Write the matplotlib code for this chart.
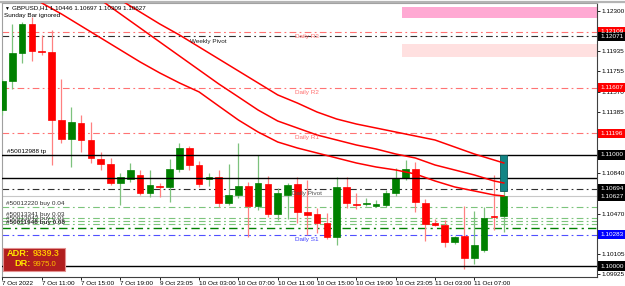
import matplotlib
matplotlib.use("Agg")
import matplotlib.pyplot as plt
from matplotlib.patches import Rectangle
from matplotlib.lines import Line2D
from matplotlib.transforms import blended_transform_factory

plt.rcParams['font.family'] = ['Liberation Sans', 'DejaVu Sans']

# H1 bars, bar 0 = 7 Oct 07:00
opens = [1.11405, 1.11667, 1.11919, 1.12180, 1.11937, 1.11928, 1.11315, 1.11144, 1.11288, 1.11135,
         1.10964, 1.10919, 1.10748, 1.10784, 1.10820, 1.10658, 1.10721, 1.10712, 1.10874, 1.11063,
         1.10910, 1.10784, 1.10802, 1.10568, 1.10640, 1.10721, 1.10541, 1.10739, 1.10468, 1.10640,
         1.10739, 1.10486, 1.10468, 1.10387, 1.10261, 1.10712, 1.10559, 1.10559, 1.10541, 1.10550,
         1.10658, 1.10793, 1.10874, 1.10568, 1.10387, 1.10369, 1.10216, 1.10270, 1.10072, 1.10144,
         1.10450, 1.10446]
highs = [1.11680, 1.12180, 1.12198, 1.12243, 1.12081, 1.12126, 1.11685, 1.11432, 1.11360, 1.11297,
         1.11027, 1.10973, 1.10838, 1.10928, 1.10865, 1.10865, 1.10748, 1.10964, 1.11108, 1.11081,
         1.10946, 1.10838, 1.10865, 1.10919, 1.11108, 1.10757, 1.11000, 1.10811, 1.10703, 1.10748,
         1.10802, 1.10775, 1.10523, 1.10477, 1.10802, 1.10802, 1.10658, 1.10613, 1.10595, 1.10685,
         1.10883, 1.10955, 1.10937, 1.10604, 1.10423, 1.10414, 1.10270, 1.10541, 1.10495, 1.10532,
         1.10820, 1.10697]
lows = [1.11360, 1.11595, 1.11829, 1.11847, 1.11901, 1.10910, 1.11108, 1.10892, 1.11027, 1.10928,
        1.10865, 1.10730, 1.10550, 1.10757, 1.10640, 1.10622, 1.10622, 1.10577, 1.10847, 1.10865,
        1.10712, 1.10721, 1.10532, 1.10550, 1.10613, 1.10261, 1.10505, 1.10441, 1.10414, 1.10423,
        1.10387, 1.10279, 1.10297, 1.10243, 1.10189, 1.10523, 1.10514, 1.10541, 1.10532, 1.10532,
        1.10631, 1.10775, 1.10486, 1.10225, 1.10360, 1.10171, 1.10198, 1.09973, 1.10018, 1.10126,
        1.10324, 1.10309]
closes = [1.11667, 1.11919, 1.12180, 1.11937, 1.11928, 1.11315, 1.11144, 1.11297, 1.11135, 1.10973,
          1.10919, 1.10748, 1.10802, 1.10865, 1.10658, 1.10730, 1.10712, 1.10874, 1.11063, 1.10910,
          1.10739, 1.10802, 1.10568, 1.10640, 1.10721, 1.10541, 1.10748, 1.10468, 1.10658, 1.10730,
          1.10486, 1.10459, 1.10387, 1.10261, 1.10712, 1.10568, 1.10550, 1.10568, 1.10559, 1.10658,
          1.10793, 1.10874, 1.10577, 1.10378, 1.10369, 1.10216, 1.10261, 1.10072, 1.10189, 1.10432,
          1.10441, 1.10627]

time_label_bars = [0, 4, 8, 12, 16, 20, 24, 28, 32, 36, 40, 44, 48]
time_labels = ['7 Oct 2022', '7 Oct 11:00', '7 Oct 15:00', '7 Oct 19:00', '9 Oct 23:05',
               '10 Oct 03:00', '10 Oct 07:00', '10 Oct 11:00', '10 Oct 15:00', '10 Oct 19:00',
               '10 Oct 23:05', '11 Oct 03:00', '11 Oct 07:00']

# three red moving averages, read every second bar
ma1_bars = [10, 12, 14, 16, 18, 20, 22, 24, 26, 28, 30, 32, 34, 36, 38, 40, 42, 44, 46, 48, 50, 51]
ma1 = [1.12505, 1.12396, 1.12288, 1.12180, 1.12081, 1.11973, 1.11865, 1.11757, 1.11649, 1.11541,
       1.11468, 1.11387, 1.11324, 1.11279, 1.11243, 1.11207, 1.11171, 1.11135, 1.11072, 1.11009,
       1.10955, 1.10928]
ma2_bars = [8, 10, 12, 14, 16, 18, 20, 22, 24, 26, 28, 30, 32, 34, 36, 38, 40, 42, 44, 46, 48, 50, 51]
ma2 = [1.12523, 1.12396, 1.12270, 1.12144, 1.12018, 1.11892, 1.11766, 1.11640, 1.11523, 1.11405,
       1.11306, 1.11243, 1.11180, 1.11135, 1.11090, 1.11054, 1.11009, 1.10973, 1.10910, 1.10865,
       1.10820, 1.10766, 1.10748]
ma3_bars = [2, 4, 6, 8, 10, 12, 14, 16, 18, 20, 22, 24, 26, 28, 30, 32, 34, 36, 38, 40, 42, 44, 46,
            48, 50, 51]
ma3 = [1.12477, 1.12369, 1.12270, 1.12162, 1.12054, 1.11946, 1.11838, 1.11739, 1.11649, 1.11568,
       1.11441, 1.11315, 1.11207, 1.11117, 1.11063, 1.11018, 1.10973, 1.10928, 1.10892, 1.10865,
       1.10829, 1.10766, 1.10712, 1.10676, 1.10640, 1.10631]

price_ticks = [1.12300, 1.11935, 1.11755, 1.11570, 1.11385, 1.10840, 1.10470, 1.10105, 1.09925]

daily_r3 = 1.12109
weekly_pivot = 1.12071
daily_r2 = 1.11607
daily_r1 = 1.11196
daily_pivot = 1.10694
daily_s1 = 1.10283
tp_level = 1.11000
round_level = 1.10000
order_level = 1.10793
bid = 1.10627
buy_levels = [1.10532, 1.10432, 1.10405, 1.10378]
buy_texts = ['#50012220 buy 0.04', '#50013341 buy 0.03', '#50013042 buy 0.01', '#50011948 buy 0.08']
avg_level = 1.10342

# price labels on the right axis: (price, background)
axis_marks = [(daily_r3, '#FF0000'), (weekly_pivot, '#000000'), (daily_r2, '#FF0000'),
              (daily_r1, '#FF0000'), (tp_level, '#000000'), (daily_pivot, '#000000'),
              (bid, '#000000'), (daily_s1, '#0000FF'), (round_level, '#000000')]

fig = plt.figure(figsize=(6.25, 2.86), dpi=100)
ax = fig.add_axes([2 / 625, 9 / 286, 595 / 625, 274 / 286])
ax.set_xlim(-0.05, 60.48)
ax.set_ylim(1.09901, 1.12369)

# zones
ax.add_patch(Rectangle((40.6, 1.12234), 20, 0.00099, facecolor='#FFA9D3', edgecolor='none', zorder=1))
ax.add_patch(Rectangle((40.6, 1.11883), 20, 0.00117, facecolor='#FFE0E0', edgecolor='none', zorder=1))

dashdot = (0, (6, 3, 1.6, 3))
for lvl in [daily_r3, daily_r2, daily_r1]:
    ax.axhline(lvl, color='#FF7373', lw=0.8, linestyle=dashdot, zorder=2)
ax.axhline(weekly_pivot, color='#303030', lw=0.8, linestyle=dashdot, zorder=2)
ax.axhline(daily_pivot, color='#303030', lw=0.8, linestyle=dashdot, zorder=2)
for lvl in buy_levels:
    ax.axhline(lvl, color='#7CC47C', lw=0.8, linestyle=dashdot, zorder=2)
ax.axhline(avg_level, color='#008000', lw=1.0, linestyle=dashdot, zorder=2)
ax.axhline(daily_s1, color='#5050FF', lw=0.8, linestyle=dashdot, zorder=2)
ax.axhline(bid, color='#C8C8C8', lw=0.8, zorder=2)
for lvl in [tp_level, order_level, round_level]:
    ax.axhline(lvl, color='black', lw=1.0, zorder=5)

# candles
for i in range(len(opens)):
    o, h, l, c = opens[i], highs[i], lows[i], closes[i]
    if c >= o:
        body, wick = '#008000', '#7DC27D'
    else:
        body, wick = '#FF0000', '#FF8080'
    ax.vlines(i, l, h, color=wick, lw=0.9, zorder=3)
    ax.bar(i, max(abs(c - o), 0.00002), bottom=min(o, c), width=0.68,
           color=body, edgecolor=body, lw=0.5, zorder=4)

# open position box on the last bar
ax.bar(51, tp_level - 1.10676, bottom=1.10676, width=0.72, color='#128585', edgecolor='#0B5858',
       lw=0.6, zorder=6)

# moving averages
for xs, ma in [(ma1_bars, ma1), (ma2_bars, ma2), (ma3_bars, ma3)]:
    ax.plot(xs, ma, color='#FF0000', lw=1.1, zorder=7)

fs = 4.6
ax.text(19.1, weekly_pivot - 0.00045, 'Weekly Pivot', fontsize=fs, color='#202020', va='center', zorder=8)
ax.text(29.75, daily_r3 - 0.00045, 'Daily R3', fontsize=fs, color='#FF6F6F', va='center', zorder=8)
ax.text(29.75, daily_r2 - 0.00040, 'Daily R2', fontsize=fs, color='#FF6F6F', va='center', zorder=8)
ax.text(29.75, daily_r1 - 0.00040, 'Daily R1', fontsize=fs, color='#FF6F6F', va='center', zorder=8)
ax.text(29.5, daily_pivot - 0.00040, 'Daily Pivot', fontsize=fs, color='#505050', va='center', zorder=8)
ax.text(29.75, daily_s1 - 0.00045, 'Daily S1', fontsize=fs, color='#4040FF', va='center', zorder=8)
ax.text(0.45, tp_level + 0.00028, '#50012988 tp', fontsize=fs, color='black', va='center', zorder=8)
offsets = [0.00032, 0.00030, 0.00020, 0.00018]
weights = ['normal', 'normal', 'normal', 'bold']
for lvl, txt, off, w in zip(buy_levels, buy_texts, offsets, weights):
    ax.text(0.4, lvl + off, txt, fontsize=fs, color='#303030', va='center', fontweight=w, zorder=8)

# top strip and header text
fig.add_artist(Line2D([0, 1], [1 - 1.5 / 286, 1 - 1.5 / 286], color='#B4B4B4', lw=1.6))
fig.text(4 / 625, 1 - 8 / 286, '\u25bc', fontsize=3.5, color='black', va='center')
fig.text(12 / 625, 1 - 8 / 286, 'GBPUSD,H1 1.10446 1.10697 1.10309 1.10627', fontsize=4.5,
         color='black', va='center')
fig.text(4 / 625, 1 - 16 / 286, 'Sunday Bar ignored', fontsize=4.6, color='black', va='center')

# ADR panel
fig.patches.append(Rectangle((3 / 625, 15 / 286), 62 / 625, 23 / 286, transform=fig.transFigure,
                             facecolor='#B11E1E', edgecolor='#E39090', lw=0.8, zorder=1))
fig.text(7 / 625, 1 - 253 / 286, 'ADR:', fontsize=6.6, color='#FFE600', fontweight='bold', va='center')
fig.text(33 / 625, 1 - 253 / 286, '9339.3', fontsize=6.3, color='#FFC000', fontweight='bold', va='center')
fig.text(14 / 625, 1 - 264 / 286, 'DR:', fontsize=6.6, color='#FFE600', fontweight='bold', va='center')
fig.text(33 / 625, 1 - 264 / 286, '9975.0', fontsize=5.6, color='#FFC000', va='center')

# axes
ax.yaxis.tick_right()
ax.set_yticks(price_ticks)
ax.set_yticklabels([f'{p:.5f}' for p in price_ticks])
ax.tick_params(axis='y', length=2.2, width=0.6, pad=0.8, labelsize=4.6, colors='black')
ax.set_xticks(time_label_bars)
ax.set_xticklabels(time_labels)
ax.tick_params(axis='x', length=2.2, width=0.6, pad=0.8, labelsize=4.6)
for lbl in ax.get_xticklabels():
    lbl.set_horizontalalignment('left')
for s in ['left', 'top']:
    ax.spines[s].set_color('#A0A0A0')
for s in ['right', 'bottom']:
    ax.spines[s].set_color('#404040')
    ax.spines[s].set_linewidth(0.8)

# coloured price boxes at the right edge
trans = blended_transform_factory(fig.transFigure, ax.transData)
for price, bg in axis_marks:
    ax.add_patch(Rectangle((597.5 / 625, price - 0.00041), 27.5 / 625, 0.00082, transform=trans,
                           facecolor=bg, edgecolor='none', clip_on=False, zorder=10))
    ax.text(600.5 / 625, price, f'{price:.5f}', transform=trans, fontsize=4.6, color='white',
            va='center', ha='left', clip_on=False, zorder=11)

fig.savefig('out.png', dpi=100, facecolor='white')
